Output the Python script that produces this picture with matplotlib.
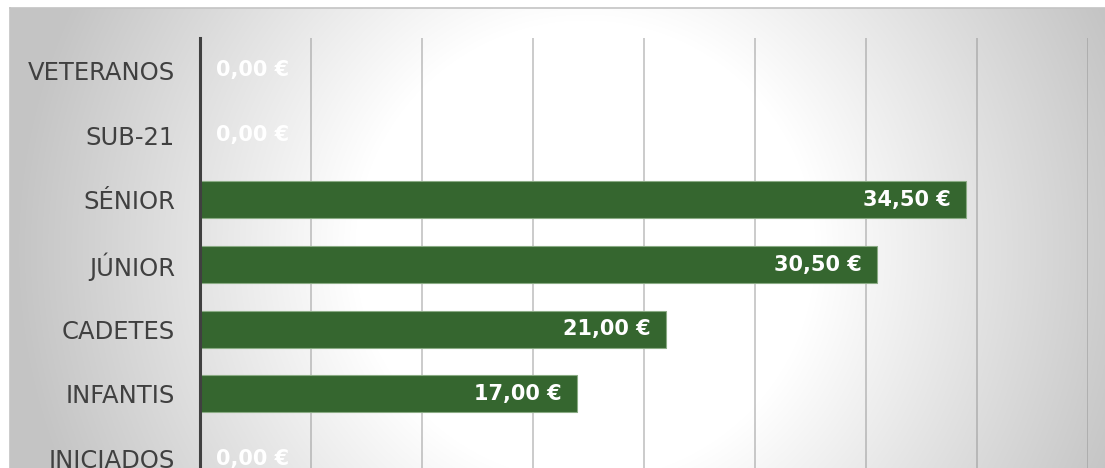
import numpy as np
import matplotlib
matplotlib.use("Agg")
import matplotlib.pyplot as plt

# categories top to bottom, values in euros
categorias = ["VETERANOS", "SUB-21", "SÉNIOR", "JÚNIOR", "CADETES", "INFANTIS", "INICIADOS"]
valores = [0.0, 0.0, 34.5, 30.5, 21.0, 17.0, 0.0]
x_ticks = [0, 5, 10, 15, 20, 25, 30, 35, 40]

W, H = 1105, 468
fig = plt.figure(figsize=(W / 100, H / 100), dpi=100)

# background: white strip, then chart area with radial gradient
bg = fig.add_axes([0, 0, 1, 1])
bg.set_xlim(0, W)
bg.set_ylim(H, 0)
bg.axis("off")
yy, xx = np.mgrid[0:H, 0:W]
d = np.sqrt((xx - 585.0) ** 2 + (yy - 250.0) ** 2)
t = np.clip((d - 230) / 340.0, 0, 1)
g = 1 - (1 - 0.77) * t
img = np.dstack([g, g, g])
img[:8, :] = 1
img[:, :10] = 1
bg.imshow(img, extent=(0, W, H, 0), interpolation="bilinear", aspect="auto")
bg.plot([10, W], [8, 8], color="#c4c4c4", lw=1.2)
bg.plot([10, 10], [8, H], color="#c4c4c4", lw=1.2)

# plot area, bottom part cut off by the figure edge
left, right, top, bottom = 200, 1088, 38, 491
ax = fig.add_axes([left / W, 1 - bottom / H, (right - left) / W, (bottom - top) / H])
ax.patch.set_visible(False)

pos = np.arange(len(categorias))
ax.barh(pos, valores, height=0.57, color="#35662f", edgecolor="#8aab84", linewidth=0.8, zorder=3)

ax.set_xlim(0, 40)
ax.set_ylim(len(categorias) - 0.5, -0.5)
ax.set_xticks(x_ticks)
ax.set_xticklabels([])
ax.tick_params(axis="x", length=0)
ax.grid(axis="x", color="#909090", alpha=0.55, linewidth=1.2, zorder=0)

ax.set_yticks(pos)
ax.set_yticklabels(categorias, fontsize=17.5, color="#404040")
ax.tick_params(axis="y", length=0, pad=18)

for s in ["top", "right", "bottom"]:
    ax.spines[s].set_visible(False)
ax.spines["left"].set_color("#404040")
ax.spines["left"].set_linewidth(2.2)
ax.spines["left"].set_zorder(4)

for p, v in zip(pos, valores):
    txt = f"{v:.2f}".replace(".", ",") + " €"
    if v > 0:
        ax.text(v - 0.7, p, txt, ha="right", va="center", color="white",
                fontsize=15, fontweight="bold", zorder=5)
    else:
        ax.text(0.7, p, txt, ha="left", va="center", color="white",
                fontsize=15, fontweight="bold", zorder=5)

fig.savefig("out.png", dpi=100)
